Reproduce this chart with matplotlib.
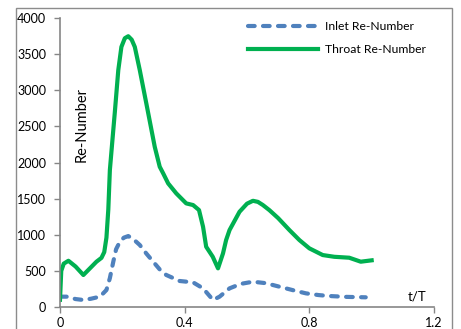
import matplotlib.pyplot as plt
from matplotlib.patches import Rectangle

# values
throat_t = [0, 0.004, 0.012, 0.027, 0.05, 0.075, 0.096, 0.117, 0.133, 0.142, 0.149,
            0.155, 0.16, 0.168, 0.176, 0.187, 0.197, 0.208, 0.219, 0.23, 0.24,
            0.256, 0.277, 0.304, 0.32, 0.331, 0.347, 0.373, 0.405, 0.427, 0.446,
            0.459, 0.469, 0.49, 0.507, 0.523, 0.533, 0.544, 0.576, 0.6, 0.619,
            0.635, 0.651, 0.672, 0.7, 0.736, 0.768, 0.8, 0.843, 0.88, 0.928,
            0.965, 1.0]
throat_re = [100, 500, 600, 640, 560, 443, 535, 627, 680, 760, 960,
             1350, 1895, 2300, 2700, 3278, 3600, 3720, 3748, 3700, 3600,
             3278, 2817, 2217, 1941, 1850, 1711, 1573, 1434, 1411, 1342,
             1110, 834, 696, 535, 742, 927, 1065, 1318, 1430, 1470,
             1455, 1411, 1340, 1230, 1065, 927, 812, 719, 695, 682,
             627, 646]

inlet_t = [0, 0.021, 0.05, 0.075, 0.1, 0.128, 0.149, 0.16, 0.171, 0.18, 0.192,
           0.205, 0.219, 0.235, 0.256, 0.277, 0.299, 0.32, 0.341, 0.384, 0.427,
           0.459, 0.491, 0.512, 0.544, 0.58, 0.619, 0.66, 0.704, 0.75, 0.789,
           0.83, 0.864, 0.92, 0.981]
inlet_re = [143, 143, 110, 97, 115, 143, 235, 400, 627, 800, 903,
            960, 982, 940, 858, 740, 627, 520, 443, 360, 341,
            258, 97, 143, 258, 320, 350, 330, 281, 230, 189,
            165, 152, 140, 134]

x_ticks = [0, 0.4, 0.8, 1.2]
x_labels = ["0", "0.4", "0.8", "1.2"]
y_ticks = list(range(0, 4001, 500))

plt.rcParams["font.family"] = ["Lato", "DejaVu Sans"]

fig = plt.figure(figsize=(4.61, 3.29), dpi=100)
ax = fig.add_axes([60 / 461, 1 - 307 / 329, 374 / 461, 289 / 329])

# outer chart-area border
fig.patches.append(Rectangle((16 / 461, -0.1), 436 / 461, 1.1 - 8 / 329,
                             transform=fig.transFigure, fill=False,
                             edgecolor="#8c8c8c", linewidth=1.0))

ax.plot(inlet_t, inlet_re, color="#4F81BD", linewidth=3, linestyle=(0, (1.6, 2.0)),
        dash_capstyle="round", solid_joinstyle="round", label="Inlet Re-Number")
ax.plot(throat_t, throat_re, color="#00B050", linewidth=3,
        solid_joinstyle="round", label="Throat Re-Number")

ax.set_xlim(0, 1.2)
ax.set_ylim(0, 4000)
ax.set_xticks(x_ticks)
ax.set_xticklabels(x_labels)
ax.set_yticks(y_ticks)
for s in ["top", "right"]:
    ax.spines[s].set_visible(False)
for s in ["left", "bottom"]:
    ax.spines[s].set_color("#868686")
    ax.spines[s].set_linewidth(1.2)
ax.tick_params(axis="both", colors="#868686", labelcolor="black", labelsize=9,
               length=4, width=1.0)
ax.tick_params(axis="x", pad=3)
ax.tick_params(axis="y", pad=6)

ax.text(0.07, 2530, "Re-Number", rotation=90, fontsize=10.5, ha="center", va="center")
ax.text(1.146, 140, "t/T", fontsize=9.5, ha="center", va="center")

ax.legend(loc="upper left", bbox_to_anchor=(248 / 461, 1 - 21 / 329),
          bbox_transform=fig.transFigure, frameon=False, fontsize=8.7,
          handlelength=5.8, handletextpad=0.55, labelspacing=1.0,
          borderpad=0, borderaxespad=0)

plt.savefig("out.png", dpi=100)
plt.close()
